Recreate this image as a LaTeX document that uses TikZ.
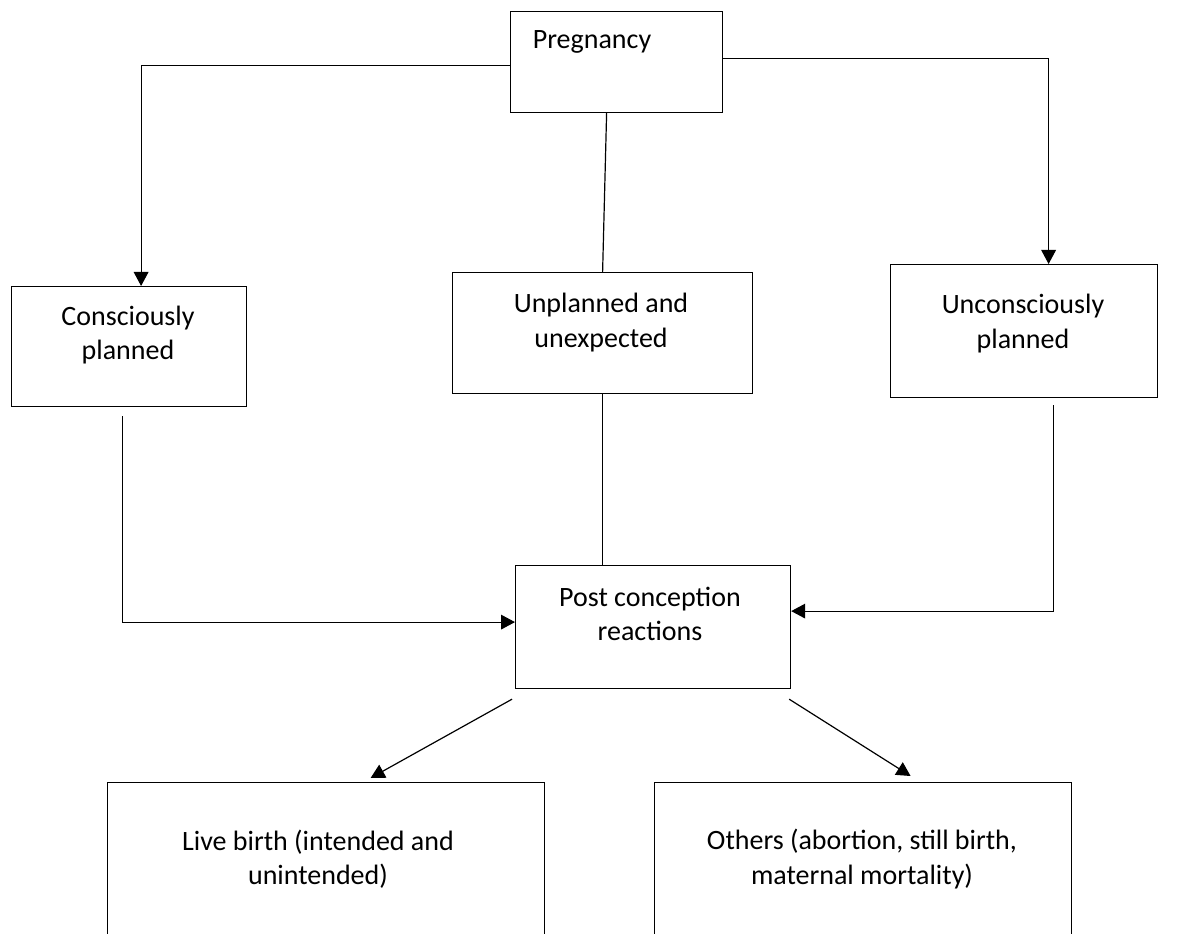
\documentclass[tikz,border=0pt]{standalone}
\usepackage{fontspec}
\setmainfont{Carlito}
\usetikzlibrary{arrows.meta,calc}
\begin{document}
\begin{tikzpicture}[x=0.75pt,y=-0.75pt,
  bx/.style n args={2}{draw, line width=0.9pt, anchor=north west, minimum width=#1*0.75pt, minimum height=#2*0.75pt, inner sep=0pt},
  txt/.style={align=center, inner sep=0pt, font=\fontsize{21}{25.6}\selectfont},
  conn/.style={line width=0.9pt},
  arr/.style={conn, -{Triangle[length=10.5pt,width=11pt]}}]
\path[use as bounding box, clip] (0,0) rectangle (1185,934);
% boxes
\node[bx={212}{101}] (preg) at (510,11) {};
\node[bx={235}{120}] (cons) at (11,286) {};
\node[bx={300}{121}] (unp) at (452,272) {};
\node[bx={267}{133}] (unc) at (890,264) {};
\node[bx={275}{123}] (post) at (515,565) {};
\node[bx={437}{200}] (live) at (107,782) {};
\node[bx={417}{200}] (oth) at (654,782) {};
% texts
\node[txt] (pregT) at (592,42) {Pregnancy};
\node[txt] (consT) at (128,335) {Consciously\\planned};
\node[txt] (unpT) at (601,322.5) {Unplanned and\\unexpected};
\node[txt] (uncT) at (1023,323.5) {Unconsciously\\planned};
\node[txt] (postT) at (650,614) {Post conception\\reactions};
\node[txt] (liveT) at (318,859) {Live birth (intended and\\unintended)};
\node[txt] (othT) at (862,859) {Others (abortion, still birth,\\maternal mortality)};
% connectors
\draw[arr] ($(preg.west)+(0,3.5)$) -| ($(cons.north)+(12,0)$);
\draw[arr] ($(preg.east)+(0,-3.5)$) -| ($(unc.north)+(24.5,0)$);
\draw[conn] ($(preg.south)+(-10,0)$) -- (unp.north);
\draw[arr] ($(cons.south)+(-7,9)$) |- ($(post.west)+(0,-5)$);
\draw[conn] (unp.south) -- (unp.south |- post.north);
\draw[arr] ($(unc.south)+(29.5,7)$) |- ($(post.east)+(0,-16)$);
\draw[arr] ($(post.south west)+(-3,10)$) -- ($(live.north)+(44.5,-4)$);
\draw[arr] ($(post.south east)+(-2,10)$) -- ($(oth.north)+(47.5,-6)$);
\end{tikzpicture}
\end{document}
